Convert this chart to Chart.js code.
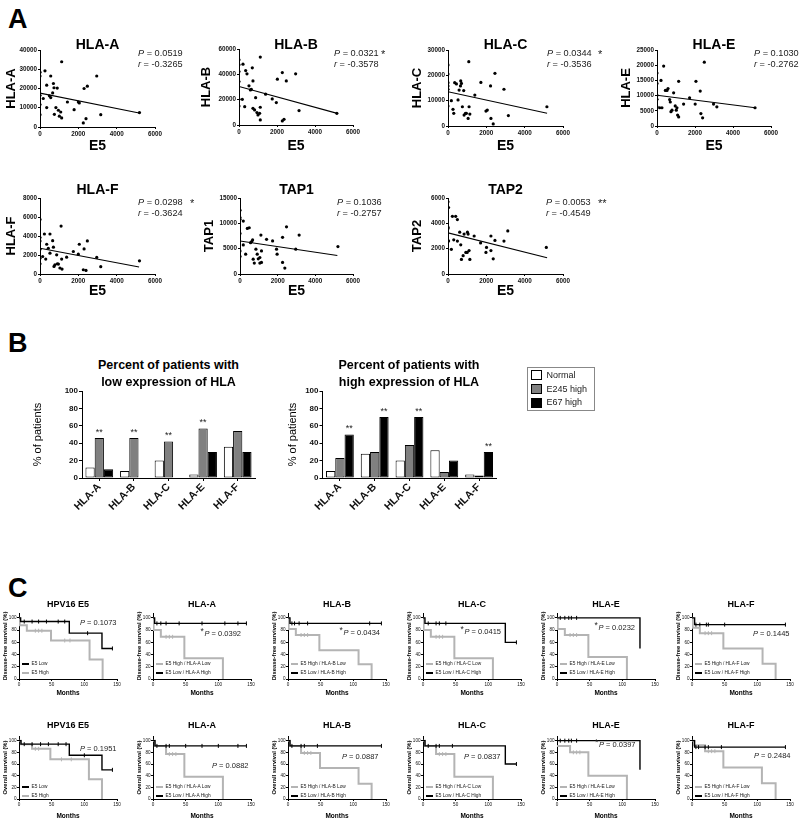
<!DOCTYPE html>
<html><head><meta charset="utf-8">
<script src="https://cdn.jsdelivr.net/npm/chart.js@4.4.1/dist/chart.umd.min.js"></script>
<style>
html,body{margin:0;padding:0;background:#fff;overflow:hidden}
#root{position:relative;width:800px;height:818px;overflow:hidden;font-family:"Liberation Sans",Arial,Helvetica,sans-serif;color:#000;background:#fff}
canvas{position:absolute}
.t{position:absolute;white-space:nowrap;line-height:1}
.sw{position:absolute}
</style></head><body><div id="root"></div>
<script>
// ================= DATA =================
// ---- Panel A: E5 expression (x) vs gene expression (y) ----
const hlaA_E5 = [0,0,0,0,0,170,260,350,350,490,560,560,660,700,730,750,830,900,960,1010,1080,1130,1130,1430,1780,2000,2050,2260,2300,2400,2470,2960,3170,5190];
const hlaA_Y  = [28500,26500,16500,11700,6400,14800,29200,21750,10100,16200,15300,26500,17700,22600,20400,6600,10100,20200,8700,5600,7800,33900,4700,13000,9000,13000,12500,2100,20000,4300,21200,26500,6400,7500];
const hlaB_E5 = [0,0,0,0,0,0,175,210,300,350,420,525,600,650,700,735,735,820,875,945,1000,1085,1120,1120,1120,1400,1750,1965,2020,2280,2280,2370,2490,2980,3160,5150];
const hlaB_Y  = [51500,47500,42200,34300,20300,15000,20300,48000,14500,43000,40400,30900,27700,28200,45100,34800,13200,11900,21600,9800,7900,9200,14000,4000,53600,24300,20600,17700,36200,41400,3200,4500,34800,40400,11400,9200];
const hlaC_E5 = [0,0,0,0,0,0,175,260,300,350,440,525,580,650,665,700,750,820,840,910,960,1050,1085,1100,1140,1400,1715,1980,2050,2220,2240,2360,2450,2920,3150,5160];
const hlaC_Y  = [24100,20500,17100,15800,14500,7900,10000,6600,5000,17100,16600,10300,14200,15800,17800,16800,7600,14000,4300,5000,5000,3000,25400,7600,4700,12200,17200,5900,6300,15800,3000,800,20800,14500,4100,7600];
const hlaE_E5 = [0,0,0,0,0,140,210,260,350,440,525,580,665,700,735,790,875,960,1015,1050,1085,1140,1140,1400,1715,2010,2050,2275,2310,2400,2490,2975,3150,5160];
const hlaE_Y  = [17400,14000,10100,8800,6300,6000,15000,6000,19700,11700,11700,12300,8700,7900,4700,5200,10900,6600,5200,6000,3600,14700,3000,7200,9300,7200,14700,11500,4100,2700,21000,7200,6300,6000];
const hlaF_E5 = [0,0,0,0,0,0,140,230,300,350,435,520,520,660,700,730,780,870,905,960,1040,1100,1130,1150,1390,1740,2000,2050,2260,2300,2400,2470,2960,3170,5190];
const hlaF_Y  = [5740,3830,3480,2610,1670,1080,1840,4210,1570,3130,2710,4210,2190,3510,2820,800,970,2020,1080,1040,630,5050,1570,520,1770,2370,2090,3130,450,2640,380,3480,1740,770,1390];
const tap1_E5 = [0,0,0,0,0,0,175,175,300,390,490,560,620,670,700,760,845,915,970,1055,1055,1110,1140,1140,1410,1730,1940,1970,2260,2260,2380,2470,2960,3140,5200];
const tap1_Y  = [12600,10800,8000,4560,3460,11150,10450,5740,3910,8990,9130,6190,6390,6720,2930,2150,4890,3910,2990,3260,2150,7690,4560,2280,6850,6520,4890,3910,7240,2280,1170,9320,4890,7690,5410];
const tap2_E5 = [0,30,0,0,0,30,175,230,300,400,490,490,610,665,700,790,840,930,1000,1015,1050,1100,1140,1365,1700,1980,2010,2240,2240,2360,2450,2920,3120,5130];
const tap2_Y  = [5700,5250,3700,3600,2650,2600,1950,4550,2700,4550,4300,2600,3300,2300,1150,1450,3150,1700,1700,3300,3150,1850,1150,3000,2450,1700,2100,3000,1850,1200,2650,2600,3400,2100];
// regression line end values (at E5 = fitX[0], fitX[1])
const fitX = [0, 5170];
const hlaA_fit = [17600, 7300];
const hlaB_fit = [30400, 9200];
const hlaC_fit = [13500, 5000];
const hlaE_fit = [10100, 6000];
const hlaF_fit = [2710, 730];
const tap1_fit = [6520, 3650];
const tap2_fit = [3250, 1280];
// tick values
const e5Ticks = [0,2000,4000,6000];
const hlaA_ticks = [0,10000,20000,30000,40000];
const hlaB_ticks = [0,20000,40000,60000];
const hlaC_ticks = [0,10000,20000,30000];
const hlaE_ticks = [0,5000,10000,15000,20000,25000];
const hlaF_ticks = [0,2000,4000,6000,8000];
const tap1_ticks = [0,5000,10000,15000];
const tap2_ticks = [0,2000,4000,6000];

// ---- Panel B: % of patients ----
const hlaCategories = ['HLA-A','HLA-B','HLA-C','HLA-E','HLA-F'];
const seriesNames = ['Normal','E245 high','E67 high'];
const lowNormal = [12, 8, 20, 4, 36];
const lowE245   = [46, 46, 42, 57, 54];
const lowE67    = [10, 0, 0, 30, 30];
const lowStars  = ['**','**','**','**',''];   // on E245 bars
const highNormal = [8, 28, 20, 32, 4];
const highE245   = [23, 30, 38, 7, 3];
const highE67    = [50, 70, 70, 20, 30];
const highStars  = ['**','**','**','','**'];  // on E67 bars
const pctTicks = [0,20,40,60,80,100];

// ---- Panel C: Kaplan-Meier curves [months, % surviving] ----
const monthTicks = [0,50,100,150];
const survTicks = [0,20,40,60,80,100];
// Disease-free survival
const dfsE5Low   = [[0,100],[2.5,94],[77,75],[127,50],[143,50]];
const dfsE5High  = [[0,100],[1,88],[12,79],[49,63],[108,32],[128,0]];
const dfsAHigh   = [[0,100],[2.5,91],[143,91]];
const dfsALow    = [[0,100],[1,80],[12,69],[48,34],[107,0]];
const dfsBHigh   = [[0,100],[3,91],[143,91]];
const dfsBLow    = [[0,100],[1,82],[12,72],[48,47],[108,24],[128,0]];
const dfsCHigh   = [[0,100],[3,91],[126,60],[143,60]];
const dfsCLow    = [[0,100],[1,80],[12,69],[48,34],[107,0]];
const dfsEHigh   = [[0,100],[127,50]];
const dfsELow    = [[0,100],[1,82],[12,72],[48,36],[107,0]];
const dfsFHigh   = [[0,100],[4,89],[143,89]];
const dfsFLow    = [[0,100],[1,84],[12,75],[48,50],[108,25],[128,0]];
// Overall survival
const osE5Low    = [[0,100],[3,94],[77,75],[127,50],[143,50]];
const osE5High   = [[0,100],[3,94],[20,86],[48,68],[107,34],[127,0]];
const osAHigh    = [[0,100],[3,91],[143,91]];
const osALow     = [[0,100],[3,91],[20,77],[48,38],[107,0]];
const osBHigh    = [[0,100],[3,91],[143,91]];
const osBLow     = [[0,100],[3,91],[20,79],[49,53],[108,26],[128,0]];
const osCHigh    = [[0,100],[3,91],[126,60],[143,60]];
const osCLow     = [[0,100],[3,91],[20,77],[48,38],[107,0]];
const osEHigh    = [[0,100],[127,50]];
const osELow     = [[0,91],[20,80],[48,40],[107,0]];
const osFHigh    = [[0,100],[4,89],[143,89]];
const osFLow     = [[0,100],[3,92],[20,82],[48,54],[107,27],[128,0]];
// censored observations
const dfsE5LowC  = [[8,94],[20,94],[30,94],[42,94],[60,94],[70,94],[105,75],[143,50]];
const dfsE5HighC = [[25,79],[30,79],[35,79],[70,63],[78,63]];
const dfsAHighC  = [[6,91],[12,91],[20,91],[40,91],[75,91],[110,91],[130,91],[143,91]];
const dfsALowC   = [[20,69],[25,69],[30,69]];
const dfsBHighC  = [[6,91],[10,91],[17,91],[30,91],[125,91],[143,91]];
const dfsBLowC   = [[20,72],[25,72],[30,72]];
const dfsCHighC  = [[8,91],[20,91],[25,91],[35,91],[143,60]];
const dfsCLowC   = [[20,69],[25,69],[30,69]];
const dfsEHighC  = [[5,100],[12,100],[18,100],[22,100],[30,100]];
const dfsELowC   = [[20,72],[25,72],[30,72]];
const dfsFHighC  = [[6,89],[12,89],[22,89],[25,89],[50,89],[143,89]];
const dfsFLowC   = [[20,75],[25,75],[30,75]];
const osE5LowC   = [[8,94],[20,94],[33,94],[45,94],[60,94],[72,94],[100,75],[143,50]];
const osE5HighC  = [[25,86],[30,86],[65,68],[80,68]];
const osAHighC   = [[6,91],[20,91],[25,91],[50,91],[75,91],[100,91],[130,91],[143,91]];
const osALowC    = [[25,77],[30,77],[35,77]];
const osBHighC   = [[6,91],[20,91],[25,91],[45,91],[143,91]];
const osBLowC    = [[25,79],[30,79],[35,79]];
const osCHighC   = [[8,91],[20,91],[25,91],[45,91],[143,60]];
const osCLowC    = [[25,77],[30,77],[35,77]];
const osEHighC   = [[5,100],[12,100],[18,100],[22,100],[30,100]];
const osELowC    = [[25,80],[30,80],[35,80]];
const osFHighC   = [[6,89],[10,89],[20,89],[25,89],[45,89],[143,89]];
const osFLowC    = [[25,82],[30,82],[35,82]];

// ================= RENDERING =================
const FONT = '"Liberation Sans", Arial, Helvetica, sans-serif';
Chart.defaults.font.family = FONT;
Chart.defaults.color = '#000';
Chart.defaults.animation = false;
Chart.defaults.responsive = false;
Chart.defaults.devicePixelRatio = 1;
Chart.defaults.plugins.legend.display = false;
Chart.defaults.plugins.tooltip.enabled = false;

const root = document.getElementById('root');

function addText(html, x, y, size, o = {}) {
  const d = document.createElement('div');
  d.className = 't';
  d.innerHTML = html;
  d.style.fontSize = size + 'px';
  d.style.top = (y - size / 2) + 'px';
  d.style.left = x + 'px';
  if (o.bold) d.style.fontWeight = 'bold';
  if (o.color) d.style.color = o.color;
  if (o.center) d.style.transform = 'translateX(-50%)';
  root.appendChild(d);
  return d;
}
function addBox(x, y, w, h, bg, border) {
  const d = document.createElement('div');
  d.className = 'sw';
  d.style.left = x + 'px'; d.style.top = y + 'px';
  d.style.width = w + 'px'; d.style.height = h + 'px';
  d.style.background = bg;
  if (border) d.style.border = border;
  d.style.boxSizing = 'border-box';
  root.appendChild(d);
}
function makeCanvas(area, cx, cb, tp, rp) {
  const x0 = cx, y0 = area.T - tp;
  const w = Math.round(area.R + rp - x0), h = Math.round(cb - y0);
  const c = document.createElement('canvas');
  c.width = w; c.height = h;
  c.style.left = x0 + 'px'; c.style.top = y0 + 'px';
  c.style.width = w + 'px'; c.style.height = h + 'px';
  root.appendChild(c);
  return { ctx: c.getContext('2d'), yw: area.L - x0, xh: cb - area.B, tp, rp: (x0 + w) - area.R };
}
function linAxis(o) {
  return {
    type: 'linear', min: o.min, max: o.max, offset: false,
    afterFit: s => { if (s.isHorizontal()) s.height = o.size; else s.width = o.size; },
    afterBuildTicks: s => { s.ticks = o.ticks.map(v => ({ value: v })); },
    ticks: { font: { size: o.tickSize, weight: o.tickWeight || 'normal' }, padding: o.tickPad ?? 1,
      maxRotation: 0, minRotation: 0, autoSkip: false, color: '#111', callback: v => String(v) },
    grid: { display: true, drawOnChartArea: false, drawTicks: true, tickLength: o.tl ?? 2, color: '#000', lineWidth: 1 },
    border: { display: true, color: '#000', width: 1 },
    title: o.title ? { display: true, text: o.title, font: { size: o.titleSize, weight: o.titleWeight || 'bold' }, padding: 0, color: '#000' } : { display: false }
  };
}
const pts = (xs, ys) => xs.map((v, i) => ({ x: v, y: ys[i] }));
const pairs = a => a.map(p => ({ x: p[0], y: p[1] }));

// ---------- Panel A ----------
addText('A', 8, 19, 27, { bold: true });
const scatterPanels = [
  { name: 'HLA-A', x: hlaA_E5, y: hlaA_Y, fit: hlaA_fit, ticks: hlaA_ticks, area: { L: 40, T: 50, R: 155, B: 127 }, cx: 4, cb: 155, ty: 44, p: '0.0519', r: '-0.3265', star: '', px: 138, py: 54 },
  { name: 'HLA-B', x: hlaB_E5, y: hlaB_Y, fit: hlaB_fit, ticks: hlaB_ticks, area: { L: 239, T: 49, R: 353, B: 125 }, cx: 199, cb: 155, ty: 44, p: '0.0321', r: '-0.3578', star: '*', px: 334, sx: 381, py: 54 },
  { name: 'HLA-C', x: hlaC_E5, y: hlaC_Y, fit: hlaC_fit, ticks: hlaC_ticks, area: { L: 448, T: 50, R: 563, B: 126 }, cx: 410, cb: 155, ty: 44, p: '0.0344', r: '-0.3536', star: '*', px: 547, sx: 598, py: 54 },
  { name: 'HLA-E', x: hlaE_E5, y: hlaE_Y, fit: hlaE_fit, ticks: hlaE_ticks, area: { L: 657, T: 50, R: 771, B: 126 }, cx: 619, cb: 155, ty: 44, p: '0.1030', r: '-0.2762', star: '', px: 754, py: 54 },
  { name: 'HLA-F', x: hlaF_E5, y: hlaF_Y, fit: hlaF_fit, ticks: hlaF_ticks, area: { L: 40, T: 198, R: 155, B: 274 }, cx: 4, cb: 300, ty: 189, p: '0.0298', r: '-0.3624', star: '*', px: 138, sx: 190, py: 203 },
  { name: 'TAP1', x: tap1_E5, y: tap1_Y, fit: tap1_fit, ticks: tap1_ticks, area: { L: 240, T: 198, R: 353, B: 274 }, cx: 202, cb: 300, ty: 189, p: '0.1036', r: '-0.2757', star: '', px: 337, py: 203 },
  { name: 'TAP2', x: tap2_E5, y: tap2_Y, fit: tap2_fit, ticks: tap2_ticks, area: { L: 448, T: 198, R: 563, B: 274 }, cx: 410, cb: 300, ty: 189, p: '0.0053', r: '-0.4549', star: '**', px: 546, sx: 598, py: 203 }
];
scatterPanels.forEach(sp => {
  const f = makeCanvas(sp.area, sp.cx, sp.cb, 8, 15);
  const ymax = sp.ticks[sp.ticks.length - 1];
  new Chart(f.ctx, {
    type: 'scatter',
    data: { datasets: [
      { data: pts(sp.x, sp.y), pointRadius: 1.6, pointBackgroundColor: '#000', pointBorderWidth: 0, showLine: false },
      { type: 'line', data: pts(fitX, sp.fit), borderColor: '#000', borderWidth: 1.1, pointRadius: 0, fill: false }
    ] },
    options: {
      layout: { padding: { top: f.tp, right: f.rp, left: 0, bottom: 0 } },
      scales: {
        x: linAxis({ min: 0, max: 6000, ticks: e5Ticks, size: f.xh, tickSize: 6.3, tickWeight: 'bold', title: 'E5', titleSize: 14 }),
        y: linAxis({ min: 0, max: ymax, ticks: sp.ticks, size: f.yw, tickSize: 6.3, tickWeight: 'bold', title: sp.name, titleSize: 13 })
      }
    }
  });
  addText(sp.name, (sp.area.L + sp.area.R) / 2, sp.ty, 14, { bold: true, center: true });
  addText('<i>P</i> = ' + sp.p, sp.px, sp.py, 9.2, { color: '#222' });
  addText('<i>r</i> = ' + sp.r, sp.px, sp.py + 11, 9.2, { color: '#222' });
  if (sp.star) addText(sp.star, sp.sx, sp.py, 11, { color: '#222' });
});

// ---------- Panel B ----------
addText('B', 8, 343, 27, { bold: true });
const starPlugin = {
  id: 'stars',
  afterDatasetsDraw(chart) {
    const ctx = chart.ctx;
    chart.data.datasets.forEach((ds, di) => {
      if (!ds.stars) return;
      const meta = chart.getDatasetMeta(di);
      ctx.save();
      ctx.font = '9px ' + FONT;
      ctx.fillStyle = '#222';
      ctx.textAlign = 'center';
      ctx.textBaseline = 'bottom';
      meta.data.forEach((bar, i) => { if (ds.stars[i]) ctx.fillText(ds.stars[i], bar.x, bar.y - 1); });
      ctx.restore();
    });
  }
};
const barPanels = [
  { area: { L: 82, T: 391, R: 255, B: 478 }, cx: 31, vals: [lowNormal, lowE245, lowE67], starIdx: 1, stars: lowStars,
    title: ['Percent of patients with', 'low expression of HLA'] },
  { area: { L: 322, T: 391, R: 496, B: 478 }, cx: 285.5, vals: [highNormal, highE245, highE67], starIdx: 2, stars: highStars,
    title: ['Percent of patients with', 'high expression of HLA'] }
];
const barFills = ['#ffffff', '#808080', '#000000'];
barPanels.forEach(bp => {
  const f = makeCanvas(bp.area, bp.cx, 525, 10, 10);
  new Chart(f.ctx, {
    type: 'bar',
    data: { labels: hlaCategories, datasets: bp.vals.map((v, k) => ({
      label: seriesNames[k], data: v, backgroundColor: barFills[k], borderColor: '#000', borderWidth: 1,
      borderSkipped: false, categoryPercentage: 0.8, barPercentage: 1.0,
      stars: k === bp.starIdx ? bp.stars : null })) },
    options: {
      layout: { padding: { top: f.tp, right: f.rp, left: 0, bottom: 0 } },
      scales: {
        x: { type: 'category', offset: true,
          afterFit: s => { s.height = f.xh; },
          ticks: { font: { size: 10.5, weight: 'bold' }, maxRotation: 45, minRotation: 45, padding: 0, autoSkip: false, color: '#111' },
          grid: { display: true, offset: false, drawOnChartArea: false, drawTicks: true, tickLength: 3, color: '#000' },
          border: { display: true, color: '#000', width: 1 } },
        y: linAxis({ min: 0, max: 100, ticks: pctTicks, size: f.yw, tickSize: 8, tickWeight: 'bold', tl: 3, tickPad: 1,
          title: '% of patients', titleSize: 11, titleWeight: 'normal' })
      }
    },
    plugins: [starPlugin]
  });
  const cxm = (bp.area.L + bp.area.R) / 2;
  addText(bp.title[0], cxm, 365, 12.5, { bold: true, center: true });
  addText(bp.title[1], cxm, 382, 12.5, { bold: true, center: true });
});
// legend
addBox(527, 367, 68, 44, 'transparent', '1px solid #888');
seriesNames.forEach((nm, k) => {
  const yc = [375, 389, 402.7][k];
  addBox(531, yc - 5, 10.5, 10, barFills[k], '1px solid #000');
  addText(nm, 546.5, yc, 9, { color: '#222' });
});

// ---------- Panel C ----------
addText('C', 8, 588, 27, { bold: true });
const kmCols = [19, 153, 288, 423, 557, 692];
const kmRows = [
  { T: 613, B: 679, cb: 697, ty: 604, yTitle: 'Disease-free survival (%)', leg: [664, 673] },
  { T: 736, B: 799, cb: 820, ty: 725, yTitle: 'Overall survival (%)', leg: [787, 796] }
];
const kmNames = ['HPV16 E5', 'HLA-A', 'HLA-B', 'HLA-C', 'HLA-E', 'HLA-F'];
const kmPanels = [
  { row: 0, col: 0, black: dfsE5Low, gray: dfsE5High, blackC: dfsE5LowC, grayC: dfsE5HighC, p: '0.1073', star: false, px: 80, py: 623 },
  { row: 0, col: 1, black: dfsAHigh, gray: dfsALow, blackC: dfsAHighC, grayC: dfsALowC, p: '0.0392', star: true, px: 204.5, py: 634 },
  { row: 0, col: 2, black: dfsBHigh, gray: dfsBLow, blackC: dfsBHighC, grayC: dfsBLowC, p: '0.0434', star: true, px: 343.5, py: 633 },
  { row: 0, col: 3, black: dfsCHigh, gray: dfsCLow, blackC: dfsCHighC, grayC: dfsCLowC, p: '0.0415', star: true, px: 464.5, py: 632 },
  { row: 0, col: 4, black: dfsEHigh, gray: dfsELow, blackC: dfsEHighC, grayC: dfsELowC, p: '0.0232', star: true, px: 598.5, py: 628 },
  { row: 0, col: 5, black: dfsFHigh, gray: dfsFLow, blackC: dfsFHighC, grayC: dfsFLowC, p: '0.1445', star: false, px: 753, py: 634 },
  { row: 1, col: 0, black: osE5Low, gray: osE5High, blackC: osE5LowC, grayC: osE5HighC, p: '0.1951', star: false, px: 80, py: 749 },
  { row: 1, col: 1, black: osAHigh, gray: osALow, blackC: osAHighC, grayC: osALowC, p: '0.0882', star: false, px: 212, py: 766 },
  { row: 1, col: 2, black: osBHigh, gray: osBLow, blackC: osBHighC, grayC: osBLowC, p: '0.0887', star: false, px: 342, py: 757 },
  { row: 1, col: 3, black: osCHigh, gray: osCLow, blackC: osCHighC, grayC: osCLowC, p: '0.0837', star: false, px: 464, py: 757 },
  { row: 1, col: 4, black: osEHigh, gray: osELow, blackC: osEHighC, grayC: osELowC, p: '0.0397', star: true, px: 599, py: 744.5 },
  { row: 1, col: 5, black: osFHigh, gray: osFLow, blackC: osFHighC, grayC: osFLowC, p: '0.2484', star: false, px: 754, py: 756 }
];
const GRAY = '#b4b4b4';
kmPanels.forEach(kp => {
  const rw = kmRows[kp.row];
  const L = kmCols[kp.col];
  const area = { L, T: rw.T, R: L + 98, B: rw.B };
  const f = makeCanvas(area, L - 17, rw.cb, 5, 8);
  new Chart(f.ctx, {
    type: 'scatter',
    data: { datasets: [
      { data: pairs(kp.blackC), showLine: false, pointStyle: 'line', rotation: 90, pointRadius: 2, borderColor: '#000', borderWidth: 1, pointBorderColor: '#000' },
      { data: pairs(kp.black), showLine: true, stepped: true, borderColor: '#000', borderWidth: 1.4, pointRadius: 0, fill: false },
      { data: pairs(kp.grayC), showLine: false, pointStyle: 'line', rotation: 90, pointRadius: 2, borderColor: GRAY, borderWidth: 1, pointBorderColor: GRAY },
      { data: pairs(kp.gray), showLine: true, stepped: true, borderColor: GRAY, borderWidth: 2, pointRadius: 0, fill: false }
    ] },
    options: {
      layout: { padding: { top: f.tp, right: f.rp, left: 0, bottom: 0 } },
      scales: {
        x: linAxis({ min: 0, max: 150, ticks: monthTicks, size: f.xh, tickSize: 4.6, tickPad: 1, title: 'Months', titleSize: 6.5 }),
        y: linAxis({ min: 0, max: 108, ticks: survTicks, size: f.yw, tickSize: 4.6, tickPad: 0.5, title: rw.yTitle, titleSize: 5.8 })
      }
    }
  });
  addText(kmNames[kp.col], L + 49, rw.ty, 9, { bold: true, center: true });
  if (kp.star) addText('*', kp.px - 4, kp.py - 2.5, 8.5, { color: '#222' });
  addText('<i>P</i> = ' + kp.p, kp.px, kp.py, 7.5, { color: '#222' });
  // legend
  const g = kmNames[kp.col];
  let entries;
  if (kp.col === 0) entries = [['E5 Low', '#000', 1.4], ['E5 High', GRAY, 2]];
  else entries = [['E5 High / ' + g + ' Low', GRAY, 2], ['E5 Low / ' + g + ' High', '#000', 1.4]];
  entries.forEach((e, k) => {
    const yc = rw.leg[k];
    addBox(L + 2.5, yc - e[2] / 2, 7.5, e[2], e[1]);
    addText(e[0], L + 12.5, yc, 4.8, { color: '#222' });
  });
});
</script></body></html>
